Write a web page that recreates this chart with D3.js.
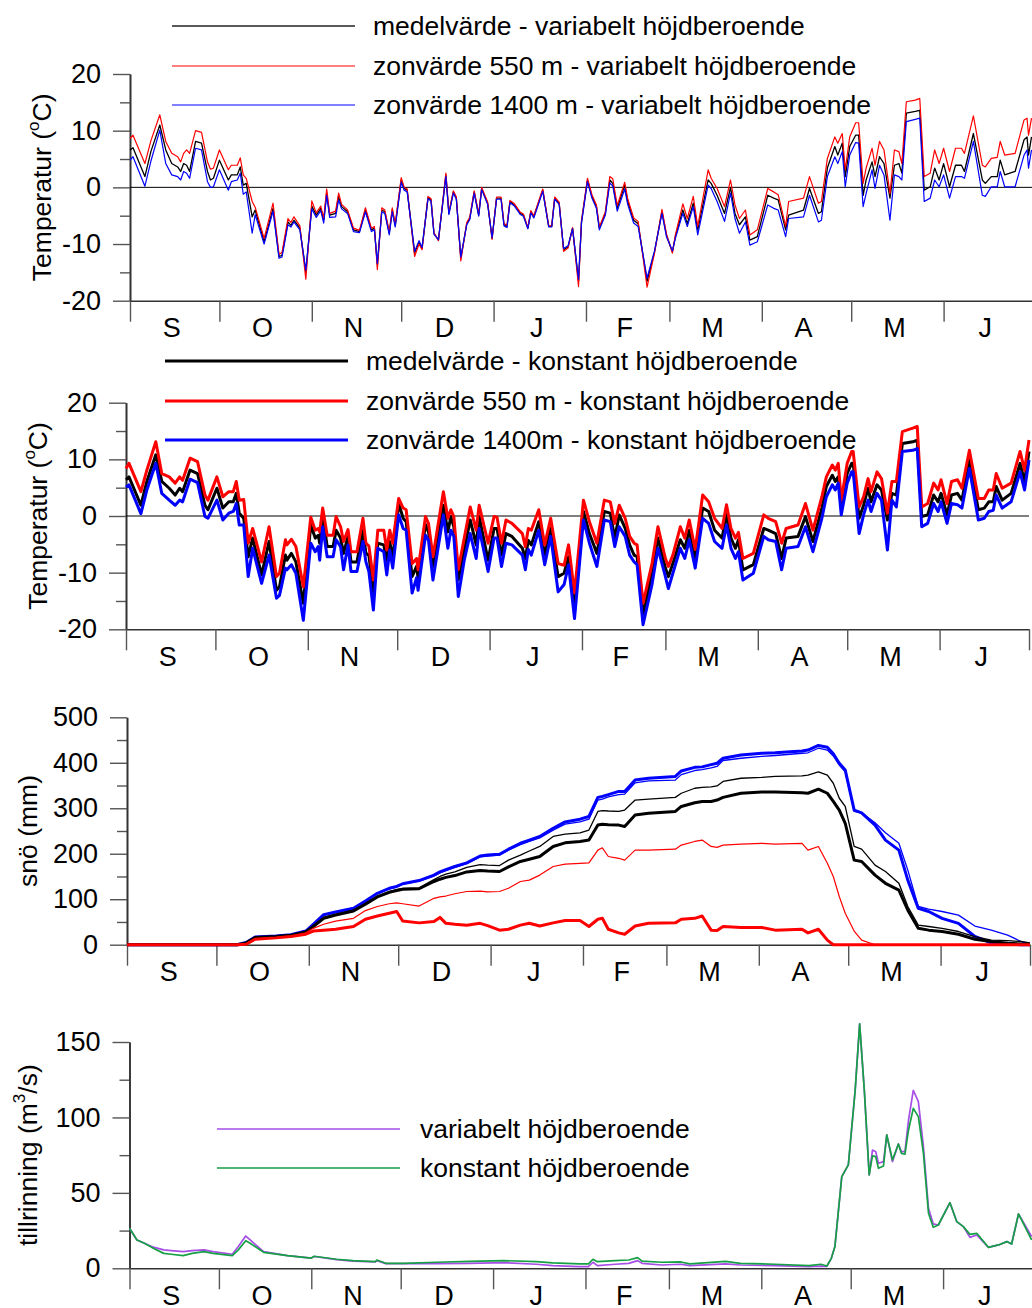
<!DOCTYPE html>
<html>
<head>
<meta charset="utf-8">
<script src="https://cdn.jsdelivr.net/npm/d3@7"></script>
<style>
body { margin: 0; background: #fff; }
svg { display: block; font-family: Arial, "Liberation Sans", sans-serif; }
</style>
</head>
<body>
<svg width="1032" height="1308"></svg>
<script>
// months from 1 Sep, day index 0 = 1 Sep
var monthLabels = ["S", "O", "N", "D", "J", "F", "M", "A", "M", "J"];
var monthLengths = [30, 31, 30, 31, 31, 28, 31, 30, 31, 30];

// temperature, variabelt höjdberoende (day, medel, 550 m, 1400 m)
var varDays = [0,1,5,7,10,12,14,16,17,18, 19,20,22,24,26,27,28,30,33,34, 36,37,38,39,41,42,45,48,50,51,
  53,54,55,57,59,61,62.5,64,65,66, 67,69,70,71,73,75,77,79,81,82, 83,84.5,85.5,87,88,89,91,92,93,95.5,
  97,98,100,101,102,103.5,106,107,108.5,109.5, 111,113,114,115.5,117,118,120,121.5,123,124.5,
  125.5,126.5,127.5,129,131,132,133.5,134.5,135.5,138.5, 140.5,141.5,142.5,144,145.5,147,148.5,150.5,151.5,153.5,
  155,156.5,157.5,159.5,161,162,163.5,166,167,169, 170.5,173.5,176,178.5,180,182,183,185.5,187,189,
  190.5,194,195,197,199.5,201.5,203,204.5,206.5,208, 210.5,214,216,217.5,220,221,226,228,231,232,
  234,236.5,237.5,239,240,241.5,243.5,244.5,246,247, 249,250,251.5,253,255,256.5,258,259,260.5,263.5,
  265,266.5,268.5,270,271.5,273,275,277,279,280, 283,286,287,289,291,292,293.5,297,300,301, 301.5,302.5];
var varMean = [6.6,7.0,1.9,6.3,11.0,6.6,4.2,3.6,2.8,4.2, 3.9,2.8,8.1,7.8,2.8,1.3,1.6,4.8,1.3,2.2,
  2.2,3.6,0.4,0.7,-5.2,-4.0,-9.6,-3.7,-12.2,-12.0, -6.1,-6.7,-5.8,-7.2,-15.0,-3.3,-4.9,-3.7,-5.8,-1.0,
  -4.9,-4.6,-1.6,-3.4,-4.3,-7.5,-7.8,-4.0,-7.5,-7.2, -13.7,-4.0,-4.3,-8.1,-4.0,-6.7,1.3,-0.2,-0.5,-11.6,
  -9.6,-10.8,-1.8,-2.2,-8.1,-9.3,2.2,-4.6,-0.8,-1.9, -12.5,-6.4,-5.5,-0.8,-4.9,-0.2,-2.8,-9.0,-1.9,-1.9,
  -6.6,-6.9,-2.5,-3.1,-4.6,-4.9,-7.2,-4.3,-5.2,-0.5, -6.9,-6.9,-1.9,-2.8,-11.0,-10.5,-7.2,-16.6,-6.1,1.3,
  -1.6,-3.4,-7.2,-4.6,1.3,0.7,-3.7,0.4,-2.5,-5.8, -6.4,-16.6,-11.4,-4.3,-8.4,-11.4,-8.7,-4.0,-6.4,-2.8,
  -7.5,1.3,0.7,-1.4,-4.6,0.0,-4.6,-6.6,-5.2,-9.3, -8.7,-1.4,-1.9,-2.2,-7.5,-4.9,-4.0,-0.2,-4.6,-4.3,
  3.4,7.2,5.7,7.8,1.9,7.2,9.2,9.2,-1.4,1.3, 4.5,1.9,5.4,4.2,-1.9,3.9,4.2,2.5,13.1,13.4,
  13.6,-0.5,0.1,3.4,1.3,4.2,0.1,3.9,3.9,2.8, 9.5,1.3,0.7,1.9,1.9,4.8,2.2,2.8,8.4,8.9, 5.7,8.9];
var var550 = [8.6,9.2,4.2,8.2,12.8,8.1,6.0,5.4,4.5,6.0, 6.6,6.0,10.0,9.7,4.5,3.2,3.4,6.6,3.1,3.9,
  3.9,5.2,2.2,1.6,-2.5,-3.5,-9.0,-2.8,-11.8,-11.5, -5.5,-6.2,-5.2,-6.8,-16.2,-2.4,-4.5,-3.3,-5.4,-0.3,
  -4.6,-4.2,-1.0,-3.0,-4.0,-7.2,-7.6,-3.6,-7.2,-6.9, -14.5,-3.6,-4.0,-7.8,-3.6,-6.4,1.7,0.0,-0.3,-12.2,
  -10.0,-11.0,-1.6,-2.0,-8.0,-9.4,2.5,-4.4,-0.6,-1.7, -13.0,-6.2,-5.3,-0.6,-4.7,0.0,-2.6,-9.2,-1.7,-1.7,
  -6.4,-6.7,-2.3,-2.9,-4.4,-4.7,-7.1,-4.1,-5.0,-0.3, -6.8,-6.8,-1.7,-2.6,-11.3,-10.7,-7.1,-17.5,-5.9,1.6,
  -1.3,-3.1,-7.0,-4.3,1.9,1.5,-3.2,0.9,-2.0,-5.4, -6.0,-17.6,-11.6,-3.9,-8.2,-11.6,-8.4,-2.9,-5.5,-1.6,
  -6.9,3.1,1.6,-0.2,-3.4,1.3,-3.1,-5.5,-4.0,-8.4, -7.5,-0.2,-0.8,-1.3,-6.9,-2.5,-1.9,1.9,-2.8,-2.5,
  5.1,8.9,7.8,9.5,3.1,8.9,11.4,11.4,0.7,3.4, 6.9,3.9,8.1,6.6,-1.1,6.6,6.3,4.2,15.1,15.4,
  15.7,1.9,2.5,6.6,4.2,6.9,2.8,6.9,6.9,6.0, 12.6,3.9,3.6,5.1,5.3,8.1,5.7,6.0,11.9,12.2, 9.2,12.2];
var var1400 = [4.8,5.4,0.2,4.6,10.1,4.2,2.2,1.9,1.3,2.8, 2.5,1.6,6.9,6.6,1.0,0.0,0.1,3.1,-0.5,1.0,
  1.3,2.5,-1.2,-0.8,-8.1,-4.8,-10.0,-4.2,-12.5,-12.3, -6.6,-7.0,-6.1,-7.5,-14.6,-3.8,-5.3,-4.1,-6.3,-1.4,
  -5.3,-5.2,-2.2,-3.8,-4.6,-7.8,-8.0,-4.3,-7.8,-7.5, -13.4,-4.3,-4.6,-8.4,-4.3,-7.0,0.9,-0.5,-0.8,-11.3,
  -9.4,-10.6,-2.0,-2.4,-8.3,-9.2,1.9,-4.8,-1.0,-2.1, -12.3,-6.6,-5.7,-1.0,-5.1,-0.4,-3.0,-8.9,-2.1,-2.1,
  -6.8,-7.1,-2.7,-3.3,-4.8,-5.1,-7.3,-4.5,-5.4,-0.7, -7.0,-7.0,-2.1,-3.0,-10.8,-10.3,-7.3,-16.2,-6.3,1.0,
  -1.9,-3.7,-7.5,-4.9,0.8,0.2,-4.2,-0.3,-3.0,-6.3, -6.9,-16.0,-11.2,-4.6,-8.7,-11.2,-9.0,-4.6,-6.9,-3.4,
  -8.4,0.4,-0.2,-2.5,-6.0,-1.0,-5.5,-8.1,-6.1,-10.2, -9.6,-3.1,-3.7,-4.0,-8.7,-5.5,-5.2,-1.4,-6.1,-5.8,
  1.9,5.4,4.2,6.3,0.1,5.7,7.9,7.8,-3.4,-1.1, 3.1,-0.2,3.9,2.2,-5.8,2.2,1.9,1.3,11.6,12.0,
  12.2,-2.5,-1.9,1.3,0.1,2.2,-1.9,1.9,1.9,1.6, 8.1,-1.4,-1.6,0.1,0.1,2.8,0.1,0.1,5.7,6.6, 3.4,6.6];

// temperature, konstant höjdberoende
var konDays = [0,1,5,7,10,12,14.5,16.5,18,19, 21.5,24,26.5,27.5,30.5,32.5,34.5,36,37,38,
  39.5,41,42.5,45.5,48,50.5,51.5,53.5,54,55.5, 57,59.5,62,63.5,64.5,65,66,67.5,69.5,70.5,
  72,73,74.5,75.5,77.5,79.5,80.5,81.5,83,84.5, 86.5,87.5,88.5,89.5,91.5,93,94,96,97.5,98,
  100.5,101.5,103,106.5,108,109,110,111.5,113.5,115.5, 117.5,118.5,121.5,123.5,124.5,126,127.5,129.5,133,134,
  135,136,138.5,140.5,142.5,145,147,148.5,150.5,153.5, 155.5,158,160.5,162.5,164,165.5,167.5,169,170.5,171.5,
  173.5,176.5,178.5,181,182,183.5,186,187.5,189,191, 193.5,195.5,197.5,200,201.5,203,204.5,205.5,207,210.5,
  214,215.5,218,220,221.5,225.5,228,230.5,233.5,235, 237,238,239,240,242,243.5,244,246,247.5,249,
  250,252,253.5,255.5,257,258.5,260.5,264,265.5,267, 269,271,272.5,273.5,275.5,277,279,280.5,283,286,
  288,289.5,291,292,294,297,300,301.5,303];
var konMean = [6.4,6.9,1.9,6.1,10.8,6.1,4.9,3.7,4.9,4.3, 8.1,7.5,1.9,1.1,4.9,1.4,2.5,2.5,4.0,0.5,
  -0.4,-7.2,-3.9,-10.4,-4.5,-13.1,-12.5,-6.9,-7.8,-6.6, -8.1,-15.4,-1.6,-3.9,-3.4,-4.8,0.5,-5.4,-5.4,-2.5,
  -3.9,-6.6,-3.6,-8.1,-8.1,-2.5,-6.6,-6.9,-13.6,-4.8, -5.1,-7.8,-4.5,-7.5,2.2,-0.4,-1.0,-10.7,-8.9,-10.9,
  -1.5,-2.8,-8.9,1.9,-2.8,-0.1,-1.9,-11.3,-6.0,-0.7, -5.1,-0.1,-7.8,-2.2,-2.2,-6.9,-3.1,-3.6,-5.7,-7.5,
  -4.3,-5.1,-1.0,-6.9,-2.2,-10.7,-10.1,-7.2,-15.4,0.8, -3.1,-6.6,0.8,0.5,-3.9,0.2,-2.2,-5.1,-6.9,-7.2,
  -17.5,-10.1,-3.9,-9.2,-10.7,-8.4,-4.2,-5.7,-2.5,-7.5, 1.4,0.8,-2.5,-3.9,0.3,-3.9,-5.7,-4.2,-9.5,-8.6,
  -2.2,-2.5,-3.1,-7.5,-3.9,-3.6,-0.1,-4.5,1.4,5.2, 7.2,6.1,6.9,1.6,7.5,9.3,9.3,-0.4,1.9,4.9,
  2.5,5.5,4.6,-0.7,4.0,3.7,12.8,13.1,13.4,-0.1, 0.2,3.7,2.5,4.0,0.2,3.7,4.0,2.8,9.9,1.1,
  1.4,2.5,2.5,5.2,2.8,4.0,9.3,6.1,11.4];
var kon550 = [8.4,9.3,4.3,8.1,13.1,7.5,6.9,5.8,6.9,6.3, 10.2,9.6,3.7,2.8,6.9,3.4,4.3,4.3,6.1,2.8,
  2.9,-4.8,-2.2,-8.1,-1.9,-10.7,-10.1,-4.2,-5.1,-4.1, -5.4,-12.5,-0.2,-2.5,-2.2,-2.8,1.4,-3.4,-3.4,-0.1,
  -1.9,-4.5,-2.4,-6.3,-6.3,-0.4,-4.8,-5.3,-11.3,-2.5, -2.5,-6.0,-2.5,-4.8,3.1,1.4,1.1,-8.4,-7.5,-9.5,
  -0.1,-1.3,-7.2,4.3,-0.4,1.1,-0.1,-9.5,-3.9,1.6, -2.5,1.9,-4.8,-0.1,-0.2,-4.8,-0.7,-1.3,-3.1,-5.4,
  -2.2,-2.5,1.1,-5.1,-0.4,-8.4,-8.7,-5.1,-13.6,2.8, -1.0,-4.8,2.8,2.5,-1.3,1.9,-0.4,-3.6,-4.8,-5.1,
  -15.4,-8.4,-1.9,-7.5,-8.9,-6.9,-1.9,-3.9,-0.7,-5.9, 3.7,2.5,-0.4,-2.2,2.0,-2.2,-3.9,-2.9,-7.5,-6.6,
  0.2,-0.4,-1.0,-4.8,-2.2,-1.6,2.2,-2.5,3.4,6.9, 9.0,8.1,9.3,2.8,9.3,11.4,11.4,1.6,3.4,6.6,
  4.3,7.8,6.6,0.5,6.1,6.1,14.9,15.5,15.8,1.6, 2.2,5.8,4.6,6.4,2.2,6.1,6.4,4.9,11.6,3.1,
  3.1,4.6,4.6,7.5,4.9,5.8,11.4,8.1,13.4];
var kon1400 = [5.1,5.5,0.4,4.6,9.3,4.0,2.8,1.9,2.8,2.5, 6.5,5.9,-0.1,-0.4,2.8,-0.7,0.5,0.8,2.2,-1.6,
  -1.6,-10.7,-5.7,-11.9,-6.9,-14.5,-14.0,-9.2,-9.5,-8.6, -10.1,-18.4,-4.8,-6.3,-5.4,-7.8,-1.9,-7.2,-7.2,-4.2,
  -5.4,-9.5,-5.1,-9.8,-9.8,-4.5,-8.1,-9.8,-16.6,-5.7, -6.3,-10.4,-6.0,-9.2,0.2,-2.2,-2.5,-13.6,-10.9,-13.1,
  -3.4,-4.3,-11.3,0.2,-5.7,-2.5,-3.6,-14.2,-7.8,-3.1, -7.5,-2.2,-9.8,-3.9,-3.9,-8.9,-4.8,-5.1,-6.9,-9.5,
  -5.9,-6.9,-2.5,-8.6,-3.6,-13.4,-12.1,-8.6,-18.1,-0.7, -4.8,-8.9,-0.7,-1.0,-5.4,-1.9,-3.6,-6.9,-8.1,-8.6,
  -19.2,-12.1,-5.7,-10.7,-12.8,-10.1,-5.7,-7.5,-4.2,-9.2, -0.4,-1.3,-4.5,-5.7,-1.6,-5.7,-7.5,-6.3,-11.3,-10.1,
  -3.6,-4.2,-4.5,-9.5,-5.7,-5.4,-1.9,-6.3,-0.4,3.4, 5.5,4.6,5.8,0.2,5.8,7.8,7.8,-3.1,0.2,2.8,
  0.8,4.0,2.8,-6.0,2.8,1.6,11.4,11.6,11.9,-1.9, -1.3,2.2,0.8,2.5,-1.3,2.2,2.0,1.4,8.4,-0.7,
  -0.4,0.8,1.0,3.7,1.4,2.5,7.8,4.6,9.9];

// snow (mm)
var snowDays = [0,37,40,43,50,55,60,62.5,66,70, 76,80,84,88,90.5,92.5,98,103,105,107,
  110,114,118.5,121,125,128,132,135,138.5,143, 147,152,155,158,159.5,161.5,165,167,170.5,175,
  184,186,190.5,193,196,198,200,206,213,217.5, 226.5,228.5,232,235,237,239,241,244,246.5,251,
  254.5,259,262,265.5,269,273.5,279,284.5,290,295.5, 300,303];
var snow1400Kon = [0,0,5,17,19,22,30,45,66,72, 80,96,113,124,128,134,141,153,160,165,
  172,180,195,197,199,210,223,230,238,256, 270,276,282,324,326,330,337,337,362,366,
  370,382,390,391,396,399,410,417,421,422, 426,428,438,434,420,399,384,296,290,263,
  230,208,142,80,73,58,47,18,4,1, 0,0];
var snow1400Var = [0,0,5,17,19,22,30,44,65,71, 79,95,112,123,127,133,140,151,158,163,
  170,178,193,195,197,208,220,227,235,252, 265,270,276,318,320,325,330,331,356,360,
  362,374,383,385,389,392,405,410,414,416, 421,422,432,428,415,395,380,293,290,268,
  246,223,164,84,78,73,65,41,32,21, 7,1.5];
var snowMeanVar = [0,0,4,16,18,21,29,41,60,67, 76,91,107,117,121,124,125,143,150,155,
  160,170,176,175,174,186,197,206,216,238, 243,246,252,293,295,294,293,296,318,320,
  324,333,344,346,347,349,359,366,368,370, 371,373,380,373,355,322,304,216,210,175,
  161,135,84,43,40,36,29,18,10,9, 7,4];
var snowMeanKon = [0,0,4,16,18,21,28,40,58,65, 74,89,105,115,119,122,123,139,144,148,
  152,160,163,162,161,171,183,188,194,216, 224,227,230,263,265,264,263,260,285,289,
  293,304,312,315,315,318,324,333,336,336, 334,333,342,333,315,296,267,186,183,153,
  135,120,76,36,32,29,23,12,7,3, 1.5,1];
var snow550Var = [0,0,2,13,16,19,26,36,45,52, 58,75,84,90,92,90,85,102,105,107,
  112,117,118,116,117,124,139,142,153,172, 177,179,180,208,213,194,190,186,208,208,
  210,219,227,230,216,214,219,221,223,221, 223,208,216,179,150,106,69,30,10,0,
  0,0,0,0,0,0,0,0,0,0, 0,0];
var snow550Kon = [0,0,1,12,15,18,23,30,32,34, 40,56,63,69,73,52,48,51,60,47,
  45,43,47,42,32,34,43,47,41,48, 53,53,40,56,58,34,26,23,41,47,
  48,56,58,63,32,31,40,38,38,32, 34,26,34,10,0,0,0,0,0,0,
  0,0,0,0,0,0,0,0,0,0, 0,0];

// tillrinning (m3/s)
var runDays = [0,2.5,5,8,11.5,14,18,21,25,28, 34.5,36.5,39,40.5,45,53,61,62,69.5,75,
  82.5,83,86,92,103,114,125.5,136.5,142,151, 154,155.5,157,163,167.5,170.5,172,178.5,185,188,
  200,205,216.5,228,232,234,235.5,236.7,239,241.2, 243.5,245,246.6,248.2,249.3,250.4,251.3,253,254.1,256,
  258,259,260.2,261.4,263,264.7,266.4,268.1,269.7,271.4, 275.3,277.6,279.8,282,284.3,288.2,291.6,294.4,296,298.3,
  302.7];
var runKon = [26.5,18.8,16.6,13.3,9.9,9.3,8.4,9.9,11,9.9, 8.4,12.2,18.3,16.6,10.6,8.4,6.8,8,6,5.1,
  4.4,5.5,3.3,3.3,4,4.6,5.1,4.4,3.6,2.9, 2.9,6,4.4,5.1,5.5,7.1,4.8,4,4.2,2.9,
  4.6,3.3,2.7,1.8,2.7,1.5,6.6,14.4,60.8,68.5, 118,162,117,61.9,74.5,74,66.3,67.8,88.4,71.8,
  82.4,76.2,75.6,91.7,106,100.5,76.2,36.5,27.2,28.7, 43.5,30.9,27.6,22.5,23.2,13.9,15.5,17.7,16.1,36,
  18.8];
var runVar = [26.5,18.8,16.6,14,12.2,11.7,11,11.7,12.2,11, 9.3,14.4,21.4,18.8,11,8.4,6.8,7.8,5.8,4.8,
  4.2,5.1,3.1,3.1,3.1,3.3,3.8,2.7,1.8,1.1, 1.1,4,1.8,2.7,3.3,5.1,3.3,2.2,2.7,1.8,
  2.9,2.2,1.8,1.1,1.5,1.3,6.6,14.4,60.8,68.5, 118,162,117,61.9,78.4,77.3,69.6,70.7,88.4,70.7,
  82.4,77.3,77.3,98.3,118,110.5,80.6,39.8,29.4,28.7, 43.5,30.9,27.6,20.5,22.1,13.9,15.5,17.7,16.1,36,
  21];

var svg = d3.select("svg");
var monthStarts = d3.cumsum([0].concat(monthLengths));
var totalDays = monthStarts[monthStarts.length - 1];

function drawPanel(p) {
  var x = d3.scaleLinear().domain([0, totalDays]).range([p.left, p.left + 903]);
  var y = d3.scaleLinear().domain(p.domain).range([p.bottom, p.top]);
  var g = svg.append("g");

  // minor ticks first, then labelled ones
  g.append("g")
    .attr("class", "ax")
    .attr("transform", "translate(" + p.left + ",0)")
    .call(d3.axisLeft(y).tickValues(p.minor).tickSize(10).tickSizeOuter(0).tickFormat(""));
  g.append("g")
    .attr("class", "ax")
    .attr("transform", "translate(" + p.left + ",0)")
    .call(d3.axisLeft(y).tickValues(p.major).tickSize(17).tickSizeOuter(0).tickPadding(12)
      .tickFormat(function(d) {return String(d);}));

  g.append("g")
    .attr("class", "ax")
    .attr("transform", "translate(0," + p.bottom + ")")
    .call(d3.axisBottom(x).tickValues(monthStarts).tickSize(21).tickSizeOuter(0).tickFormat(""));

  g.selectAll(".month")
    .data(monthLabels)
    .enter()
    .append("text")
      .attr("class", "month")
      .attr("x", function(d, i) {return x(monthStarts[i] + monthLengths[i] / 2) - 3;})
      .attr("y", p.bottom + 27)
      .attr("dy", "0.35em")
      .attr("text-anchor", "middle")
      .attr("font-size", 27)
      .text(function(d) {return d;});

  if (p.zero) {
    g.append("line")
      .attr("x1", p.left).attr("x2", p.left + 903)
      .attr("y1", y(0)).attr("y2", y(0))
      .attr("stroke", "#000").attr("stroke-width", 1);
  }

  var title = g.append("text")
    .attr("transform", "translate(" + p.titleX + "," + (p.top + p.bottom) / 2 + ") rotate(-90)")
    .attr("dy", "0.35em")
    .attr("text-anchor", "middle")
    .attr("font-size", 26.5);
  title.append("tspan").text(p.title[0]);
  title.append("tspan").attr("font-size", 17).attr("dy", "-0.7em").text(p.title[1]);
  title.append("tspan").attr("dy", "0.45em").text(p.title[2]);

  var line = d3.line()
    .x(function(d) {return x(d[0]);})
    .y(function(d) {return y(d[1]);});

  p.series.forEach(function(s) {
    g.append("path")
      .datum(d3.zip(s.days, s.values))
      .attr("fill", "none")
      .attr("stroke", s.color)
      .attr("stroke-width", s.width)
      .attr("stroke-linejoin", "round")
      .attr("d", line);
  });

  if (p.legend) {
    var lg = g.selectAll(".leg")
      .data(p.legend.items)
      .enter()
      .append("g")
        .attr("transform", function(d, i) {return "translate(0," + p.legend.rows[i] + ")";});
    lg.append("line")
      .attr("x1", p.legend.x1).attr("x2", p.legend.x2)
      .attr("stroke", function(d) {return d.color;})
      .attr("stroke-width", function(d) {return d.width;});
    lg.append("text")
      .attr("x", p.legend.tx)
      .attr("dy", "0.35em")
      .attr("font-size", 26.5)
      .text(function(d) {return d.label;});
  }
}

var tempMajor = [-20, -10, 0, 10, 20];
var tempMinor = [-15, -5, 5, 15];

drawPanel({
  left: 130, top: 74, bottom: 300.7, domain: [-20, 20],
  major: tempMajor, minor: tempMinor, zero: true,
  titleX: 42, title: ["Temperatur (", "o", "C)"],
  series: [
    {days: varDays, values: varMean, color: "#000", width: 1.3},
    {days: varDays, values: var550, color: "#ff0000", width: 1.2},
    {days: varDays, values: var1400, color: "#0000ff", width: 1.2}
  ],
  legend: {
    x1: 172, x2: 355, tx: 373, rows: [26, 66, 105],
    items: [
      {label: "medelvärde - variabelt höjdberoende", color: "#222", width: 1.6},
      {label: "zonvärde 550 m - variabelt höjdberoende", color: "#ff0000", width: 1.2},
      {label: "zonvärde 1400 m - variabelt höjdberoende", color: "#0000ff", width: 1.2}
    ]
  }
});

drawPanel({
  left: 126, top: 402.7, bottom: 629.3, domain: [-20, 20],
  major: tempMajor, minor: tempMinor, zero: true,
  titleX: 38, title: ["Temperatur (", "o", "C)"],
  series: [
    {days: konDays, values: konMean, color: "#000", width: 3},
    {days: konDays, values: kon550, color: "#ff0000", width: 3},
    {days: konDays, values: kon1400, color: "#0000ff", width: 3}
  ],
  legend: {
    x1: 165, x2: 348, tx: 366, rows: [361, 401, 440],
    items: [
      {label: "medelvärde - konstant höjdberoende", color: "#000", width: 3},
      {label: "zonvärde 550 m - konstant höjdberoende", color: "#ff0000", width: 3},
      {label: "zonvärde 1400m - konstant höjdberoende", color: "#0000ff", width: 3}
    ]
  }
});

drawPanel({
  left: 127, top: 717.3, bottom: 944.7, domain: [0, 500],
  major: [0, 100, 200, 300, 400, 500], minor: [50, 150, 250, 350, 450],
  titleX: 28, title: ["snö (mm)", "", ""],
  series: [
    {days: snowDays, values: snow1400Var, color: "#0000ff", width: 1.3},
    {days: snowDays, values: snow1400Kon, color: "#0000ff", width: 3},
    {days: snowDays, values: snowMeanVar, color: "#000", width: 1.3},
    {days: snowDays, values: snowMeanKon, color: "#000", width: 3},
    {days: snowDays, values: snow550Var, color: "#ff0000", width: 1.2},
    {days: snowDays, values: snow550Kon, color: "#ff0000", width: 3}
  ]
});

drawPanel({
  left: 129.5, top: 1042, bottom: 1268.3, domain: [0, 150],
  major: [0, 50, 100, 150], minor: [25, 75, 125],
  titleX: 28, title: ["tillrinning (m", "3", "/s)"],
  series: [
    {days: runDays, values: runVar, color: "#a64ee6", width: 1.7},
    {days: runDays, values: runKon, color: "#16a045", width: 1.7}
  ],
  legend: {
    x1: 217, x2: 400, tx: 420, rows: [1129, 1168],
    items: [
      {label: "variabelt höjdberoende", color: "#a64ee6", width: 1.7},
      {label: "konstant höjdberoende", color: "#16a045", width: 1.7}
    ]
  }
});

svg.selectAll(".ax .domain").attr("stroke", "#333").attr("stroke-width", 1.6);
svg.selectAll(".ax .tick line").attr("stroke", "#555").attr("stroke-width", 1.4);
svg.selectAll(".ax .tick text").attr("font-size", 27).attr("fill", "#000")
  .attr("font-family", "Arial, 'Liberation Sans', sans-serif");
</script>
</body>
</html>
